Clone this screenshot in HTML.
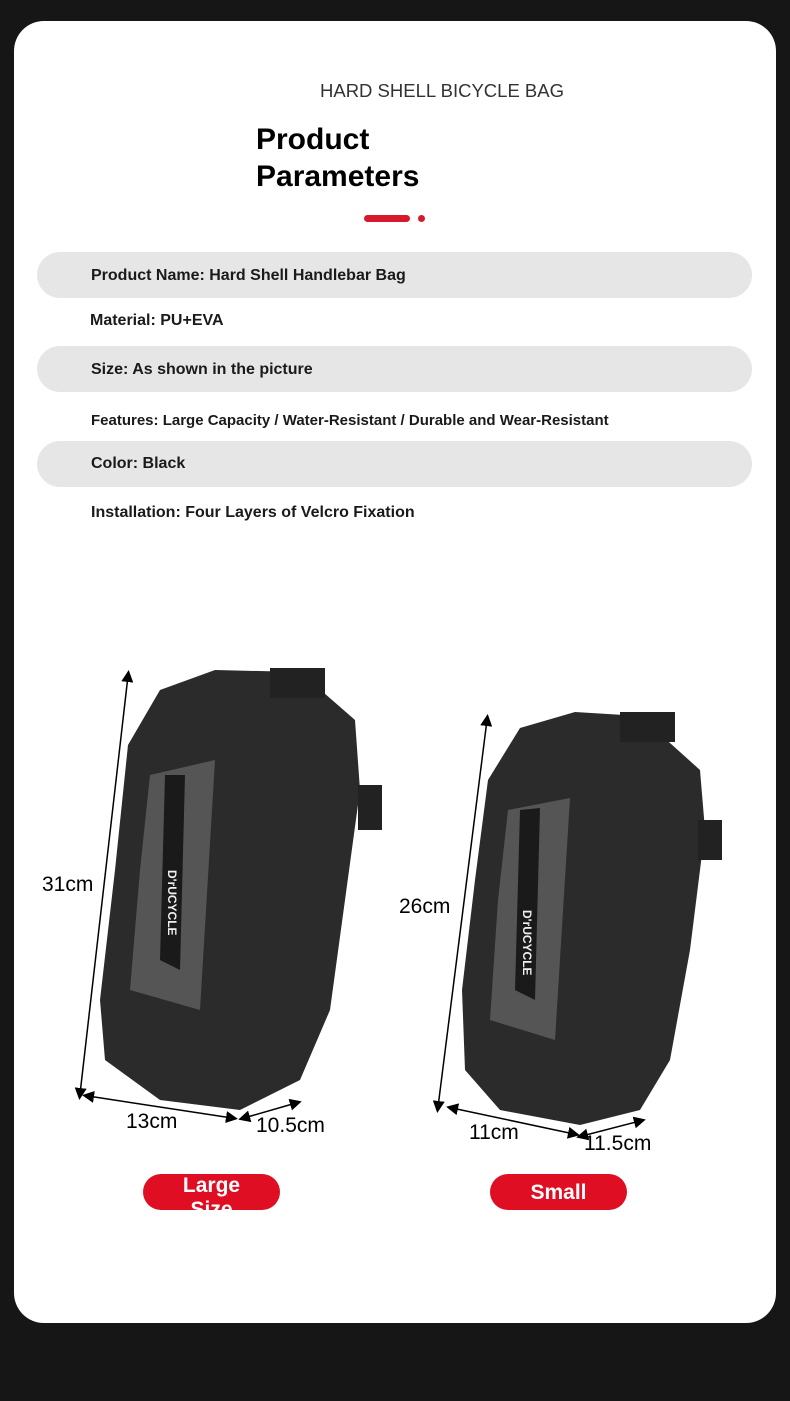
<!DOCTYPE html>
<html><head><meta charset="utf-8"><style>
body{margin:0;width:790px;height:1401px;background:#161616;font-family:"Liberation Sans",sans-serif;position:relative;overflow:hidden}
.card{position:absolute;left:14px;top:21px;width:762px;height:1302px;background:#fff;border-radius:30px}
.t{position:absolute;white-space:nowrap}
.row{position:absolute;left:37px;width:715px;height:46px;background:#e6e6e6;border-radius:23px}
.p{position:absolute;left:91px;font-weight:bold;font-size:16px;color:#1a1a1a}
.btn{position:absolute;background:#e00e23;border-radius:18px;color:#fff;font-weight:bold;font-size:21px;text-align:center;overflow:hidden}
</style></head><body>
<div class="card"></div>
<div class="t" style="left:320px;top:80px;font-size:18.5px;color:#333">HARD SHELL BICYCLE BAG</div>
<div class="t" style="left:256px;top:121px;font-size:30px;font-weight:bold;line-height:37px;color:#000">Product<br>Parameters</div>
<div style="position:absolute;left:364px;top:215px;width:46px;height:7px;border-radius:4px;background:#d8192c"></div>
<div style="position:absolute;left:418px;top:215px;width:7px;height:7px;border-radius:4px;background:#d8192c"></div>
<div class="row" style="top:252px"></div>
<div class="row" style="top:346px"></div>
<div class="row" style="top:441px"></div>
<div class="t p" style="top:267px">Product Name: Hard Shell Handlebar Bag</div>
<div class="t p" style="left:90px;top:312px">Material: PU+EVA</div>
<div class="t p" style="top:361px">Size: As shown in the picture</div>
<div class="t p" style="top:412px;font-size:15px">Features: Large Capacity / Water-Resistant / Durable and Wear-Resistant</div>
<div class="t p" style="top:455px">Color: Black</div>
<div class="t p" style="top:504px">Installation: Four Layers of Velcro Fixation</div>
<svg style="position:absolute;left:0;top:0" width="790" height="1401">
<defs><marker id="a" markerWidth="8" markerHeight="8" refX="4" refY="4" orient="auto-start-reverse"><path d="M0,0L8,4L0,8z" fill="#000"/></marker></defs>
<g fill="#2b2b2b">
<polygon points="128,745 160,690 215,670 300,672 355,720 360,790 345,900 330,1010 300,1080 240,1110 160,1100 105,1060 100,1000 115,870"/>
<polygon points="488,780 520,728 575,712 640,716 700,770 705,830 690,950 670,1060 640,1110 580,1125 500,1110 465,1070 462,990 475,880"/>
</g>
<g fill="#555">
<polygon points="150,775 215,760 200,1010 130,990 140,870"/>
<polygon points="508,810 570,798 555,1040 490,1020 498,900"/>
<rect x="270" y="668" width="55" height="30" fill="#222"/><rect x="358" y="785" width="24" height="45" fill="#222"/>
<rect x="620" y="712" width="55" height="30" fill="#222"/><rect x="698" y="820" width="24" height="40" fill="#222"/>
</g>
<g fill="#1a1a1a"><polygon points="165,775 185,775 180,970 160,960"/><polygon points="520,810 540,808 535,1000 515,990"/></g>
<g fill="#f0f0f0" font-size="12" font-weight="bold">
<text transform="translate(168,870) rotate(90)">D'rUCYCLE</text>
<text transform="translate(523,910) rotate(90)">D'rUCYCLE</text></g>
<g stroke="#000" stroke-width="1.5" marker-start="url(#a)" marker-end="url(#a)">
<line x1="128" y1="676" x2="80" y2="1094"/>
<line x1="88" y1="1096" x2="232" y2="1118"/>
<line x1="244" y1="1118" x2="296" y2="1103"/>
<line x1="487" y1="720" x2="438" y2="1107"/>
<line x1="452" y1="1108" x2="574" y2="1134"/>
<line x1="582" y1="1136" x2="640" y2="1121"/>
</g>
</svg>
<div class="t" style="left:42px;top:873px;font-size:21px">31cm</div>
<div class="t" style="left:126px;top:1110px;font-size:21px">13cm</div>
<div class="t" style="left:256px;top:1114px;font-size:21px">10.5cm</div>
<div class="t" style="left:399px;top:895px;font-size:21px">26cm</div>
<div class="t" style="left:469px;top:1121px;font-size:21px">11cm</div>
<div class="t" style="left:584px;top:1132px;font-size:21px">11.5cm</div>
<div class="btn" style="left:143px;top:1174px;width:137px;height:36px;line-height:24px">Large<br>Size</div>
<div class="btn" style="left:490px;top:1174px;width:137px;height:36px;line-height:38px">Small</div>
</body></html>
